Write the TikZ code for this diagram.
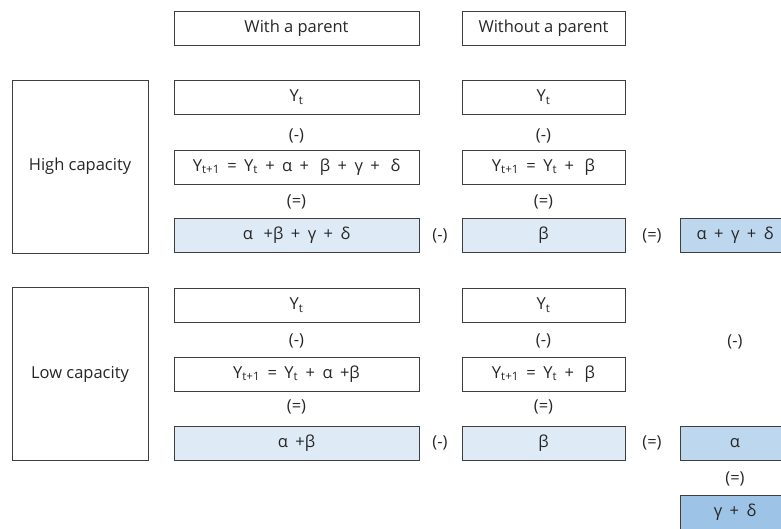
\documentclass[tikz,border=0pt]{standalone}
\usepackage{fontspec}
\setmainfont{Open Sans}
\usepackage{tikz}
\usetikzlibrary{positioning}
\usepackage{xcolor}
\definecolor{edge}{HTML}{3F3F3F}
\definecolor{txt}{HTML}{262626}
\definecolor{paleblue}{HTML}{DEEBF7}
\definecolor{midblue}{HTML}{BDD7EE}
\definecolor{deepblue}{HTML}{9DC3E6}

\newcommand{\Yt}{Y\textsubscript{t}}
\newcommand{\Ytn}{Y\textsubscript{t+1}}
\newcommand{\wideskip}{\spaceskip 0.45em\relax}
\newcommand{\xs}{\hspace{0.2em}}

\begin{document}
\begin{tikzpicture}[x=1pt, y=-1pt,
  every node/.style={font=\fontsize{16.5}{19}\selectfont, text=txt},
  eq/.style={font=\fontsize{16.5}{19}\selectfont\wideskip},
  cell/.style={draw=edge, line width=0.9pt, minimum height=34pt, inner sep=0pt},
  wide/.style={cell, minimum width=245pt},
  narrow/.style={cell, minimum width=163pt},
  side/.style={cell, minimum width=110pt},
  group/.style={cell, minimum width=136pt, minimum height=173pt}]
  \useasboundingbox (0,0) rectangle (781,528);
  \clip (0,0) rectangle (781,528);

  % column headers
  \node[wide] (hwith) at (296.5,28.5) {With a parent};
  \node[narrow] (hwithout) at (543.5,28.5) {Without a parent};

  % high capacity
  \node[group] (high) at (80,166.5) {High capacity};
  \node[wide] (hyt) at (296.5,97) {\Yt};
  \node (hm1) at (296.5,136) {(-)};
  \node[wide, eq] (hyn) at (296.5,167) {\Ytn{} = \Yt{} + α +\xs{} β + γ +\xs{} δ};
  \node (he1) at (296.5,202) {(=)};
  \node[wide, eq, fill=paleblue] (hsum) at (296.5,235.5) {α\xs{} +β + γ + δ};
  \node[narrow] (hyt2) at (543.5,97) {\Yt};
  \node (hm2) at (543.5,136) {(-)};
  \node[narrow, eq] (hyn2) at (543.5,167) {\Ytn{} = \Yt{} +\xs{} β};
  \node (he2) at (543.5,202) {(=)};
  \node[narrow, fill=paleblue] (hb) at (543.5,235.5) {β};
  \node (hm3) at (440,235.5) {(-)};
  \node (he3) at (652,235.5) {(=)};
  \node[side, eq, fill=midblue] (hdiff) at (735,235.5) {α + γ + δ};

  % low capacity
  \node[group] (low) at (80,374) {Low capacity};
  \node[wide] (lyt) at (296.5,305) {\Yt};
  \node (lm1) at (296.5,341) {(-)};
  \node[wide, eq] (lyn) at (296.5,374) {\Ytn{} = \Yt{} + α +β};
  \node (le1) at (296.5,407) {(=)};
  \node[wide, eq, fill=paleblue] (lsum) at (296.5,443) {α +β};
  \node[narrow] (lyt2) at (543.5,305) {\Yt};
  \node (lm2) at (543.5,341) {(-)};
  \node[narrow, eq] (lyn2) at (543.5,374) {\Ytn{} = \Yt{} +\xs{} β};
  \node (le2) at (543.5,407) {(=)};
  \node[narrow, fill=paleblue] (lb) at (543.5,443) {β};
  \node (lm3) at (440,443) {(-)};
  \node (le3) at (652,443) {(=)};
  \node[side, fill=midblue] (ldiff) at (735,443.5) {α};

  % difference of the differences
  \node (dm) at (735,342) {(-)};
  \node (de) at (735,479) {(=)};
  \node[side, eq, fill=deepblue] (dd) at (735,512.5) {γ + δ};
\end{tikzpicture}
\end{document}
